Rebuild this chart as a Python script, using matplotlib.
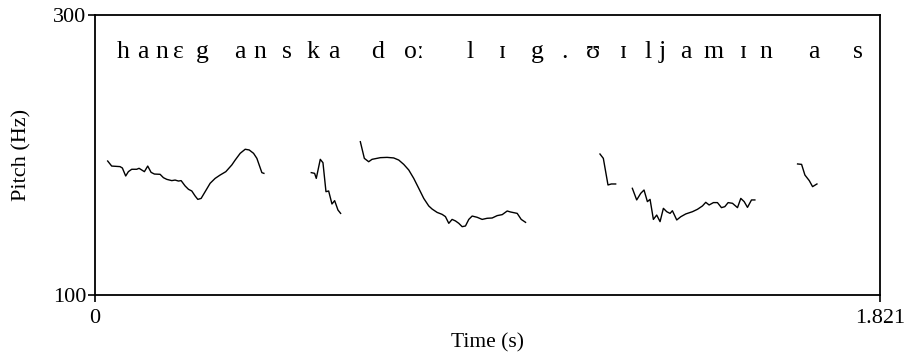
#!/usr/bin/env python3
"""Pitch contour of an utterance with its phonetic transcription."""

import matplotlib
matplotlib.use("Agg")
import matplotlib.pyplot as plt

plt.rcParams["font.family"] = ["Liberation Serif", "DejaVu Serif"]

T_MAX = 1.821
F_MIN, F_MAX = 100, 300

# Voiced stretches of the pitch track: (time in s, F0 in Hz)
seg1_t = [0.0294, 0.0387, 0.0581, 0.0635, 0.0712, 0.0774, 0.0852, 0.0968, 0.1022,
          0.1084, 0.1146, 0.1223, 0.1301, 0.1378, 0.1510, 0.1587, 0.1665, 0.1781,
          0.1858, 0.1936, 0.1998, 0.2090, 0.2168, 0.2245, 0.2323, 0.2385, 0.2462,
          0.2555, 0.2671, 0.2787, 0.2903, 0.3035, 0.3174, 0.3252, 0.3368, 0.3484,
          0.3577, 0.3678, 0.3755, 0.3871, 0.3918]
seg1_f = [195.7, 192.1, 191.7, 190.7, 185.0, 188.1, 189.8, 189.8, 190.5,
          189.3, 188.1, 192.1, 187.6, 186.4, 186.2, 183.8, 182.6, 181.7,
          182.1, 181.4, 181.7, 177.9, 175.5, 174.3, 170.7, 168.3, 169.0,
          173.8, 179.8, 183.3, 185.7, 188.1, 192.9, 196.4, 201.2, 204.1,
          203.6, 201.2, 197.6, 187.4, 186.9]

seg2_t = [0.5017, 0.5094, 0.5133, 0.5226, 0.5288, 0.5358, 0.5420, 0.5497, 0.5559,
          0.5636, 0.5698]
seg2_f = [187.4, 186.9, 183.3, 196.9, 194.5, 173.8, 174.3, 165.0, 167.4,
          160.7, 158.3]

seg3_t = [0.6155, 0.6248, 0.6349, 0.6426, 0.6620, 0.6775, 0.6929, 0.7046, 0.7162,
          0.7278, 0.7394, 0.7510, 0.7626, 0.7742, 0.7820, 0.7936, 0.8052, 0.8129,
          0.8207, 0.8284, 0.8362, 0.8439, 0.8517, 0.8594, 0.8671, 0.8749, 0.8865,
          0.8981, 0.9097, 0.9213, 0.9330, 0.9446, 0.9562, 0.9639, 0.9794, 0.9887,
          0.9988]
seg3_f = [209.5, 197.6, 195.2, 196.9, 198.1, 198.3, 197.9, 196.4, 193.3,
          189.3, 183.3, 176.2, 169.0, 163.6, 161.4, 159.0, 157.6, 156.0,
          151.2, 154.0, 152.9, 151.2, 148.8, 149.3, 154.0, 156.4, 155.5,
          154.0, 154.8, 155.0, 156.7, 157.4, 160.0, 159.3, 158.3, 154.0,
          151.9]

seg4_t = [1.1714, 1.1792, 1.1900, 1.1977, 1.2078]
seg4_f = [200.7, 197.6, 178.6, 179.3, 179.3]

seg5_t = [1.2465, 1.2566, 1.2659, 1.2736, 1.2814, 1.2876, 1.2953, 1.3030, 1.3108,
          1.3185, 1.3263, 1.3340, 1.3394, 1.3495, 1.3588, 1.3704, 1.3859, 1.3975,
          1.4091, 1.4168, 1.4246, 1.4346, 1.4439, 1.4532, 1.4610, 1.4687, 1.4788,
          1.4904, 1.4981, 1.5059, 1.5136, 1.5229, 1.5307]
seg5_f = [176.2, 167.9, 172.6, 175.0, 166.7, 168.3, 154.0, 157.1, 152.4,
          161.9, 159.5, 158.3, 160.2, 153.6, 155.9, 157.9, 159.5, 161.2,
          163.6, 166.2, 164.3, 166.0, 166.0, 162.4, 163.1, 166.0, 165.5,
          162.4, 169.0, 166.7, 162.6, 167.9, 167.9]

seg6_t = [1.6298, 1.6391, 1.6468, 1.6569, 1.6646, 1.6747]
seg6_f = [193.6, 193.3, 185.7, 181.7, 177.4, 179.3]

segments = [(seg1_t, seg1_f), (seg2_t, seg2_f), (seg3_t, seg3_f),
            (seg4_t, seg4_f), (seg5_t, seg5_f), (seg6_t, seg6_f)]

# Transcription symbols and where they sit in time
phones = ["h", "a", "n", "ɛ", "g", "a", "n", "s", "k", "a", "d", "oː", "l",
          "ɪ", "g", ".", "ʊ", "ɪ", "l", "j", "a", "m", "ɪ", "n", "a", "s"]
phone_t = [0.065, 0.112, 0.156, 0.193, 0.248, 0.337, 0.383, 0.446, 0.506,
           0.553, 0.655, 0.740, 0.871, 0.945, 1.026, 1.088, 1.156, 1.226,
           1.284, 1.316, 1.370, 1.435, 1.505, 1.556, 1.667, 1.770]
PHONE_F = 269

fig = plt.figure(figsize=(9.09, 3.6), dpi=100)
ax = fig.add_axes([95 / 909, 1 - 295 / 360, 785 / 909, 280 / 360])

for t, f in segments:
    ax.plot(t, f, color="black", linewidth=1.0)

for p, t in zip(phones, phone_t):
    ax.text(t, PHONE_F, p, ha="center", va="baseline", fontsize=18.5)

ax.set_xlim(0, T_MAX)
ax.set_ylim(F_MIN, F_MAX)
ax.set_xticks([0, T_MAX])
ax.set_xticklabels(["0", "1.821"])
ax.set_yticks([F_MIN, F_MAX])
ax.set_yticklabels([str(F_MIN), str(F_MAX)])
ax.tick_params(direction="out", length=5, width=1.2, labelsize=16, colors="black")
ax.tick_params(axis="x", pad=5)
ax.tick_params(axis="y", pad=1)
for s in ax.spines.values():
    s.set_linewidth(1.3)

ax.set_xlabel("Time (s)", fontsize=15.5, labelpad=4)
ax.set_ylabel("Pitch (Hz)", fontsize=16, labelpad=16)

fig.savefig("out.png", dpi=100)
